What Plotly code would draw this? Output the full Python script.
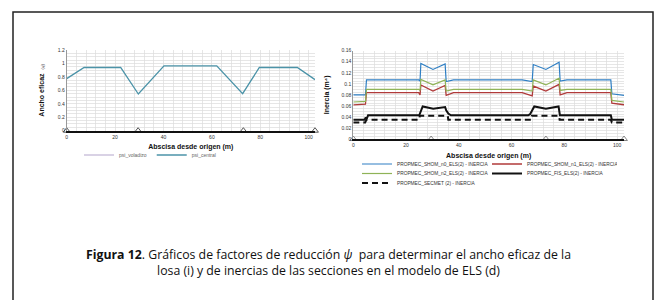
import plotly.graph_objects as go

# ---------------- data ----------------
# left chart: effective width reduction factor psi
x_psi = [0, 7.2, 22.3, 29.6, 40.2, 62.0, 72.7, 79.6, 95.3, 102.6]
psi_central = [0.775, 0.94, 0.94, 0.545, 0.965, 0.965, 0.55, 0.94, 0.94, 0.76]
psi_voladizo = [None]
supports = [0, 29.5, 73, 102.6]

# right chart: inertias
x_shom = [0, 4.6, 5.0, 24.8, 25.3, 25.6, 30.2, 34.8, 35.2, 38.0, 64.0, 67.8, 68.2, 73.0, 78.0, 78.4, 81.0, 97.6, 98.0, 102.6]
n0 = [0.080, 0.080, 0.107, 0.107, 0.105, 0.137, 0.126, 0.136, 0.104, 0.107, 0.107, 0.104, 0.135, 0.126, 0.139, 0.105, 0.107, 0.107, 0.082, 0.079]
n1 = [0.062, 0.063, 0.084, 0.084, 0.080, 0.098, 0.087, 0.097, 0.079, 0.084, 0.084, 0.078, 0.096, 0.087, 0.099, 0.080, 0.084, 0.084, 0.065, 0.062]
n2 = [0.067, 0.068, 0.090, 0.090, 0.088, 0.108, 0.098, 0.107, 0.087, 0.090, 0.090, 0.087, 0.107, 0.098, 0.110, 0.088, 0.090, 0.090, 0.070, 0.067]

x_fis = [0, 4.3, 4.6, 5.2, 5.6, 25.0, 26.3, 30.3, 34.8, 35.2, 36.0, 37.0, 66.3, 67.0, 68.6, 73.0, 77.8, 78.3, 97.6, 98.0, 102.6]
fis = [0.035, 0.035, 0.038, 0.038, 0.043, 0.043, 0.059, 0.055, 0.058, 0.052, 0.046, 0.043, 0.043, 0.045, 0.059, 0.055, 0.059, 0.043, 0.043, 0.035, 0.035]

x_secmet = [0, 4.5, 5.0, 25.0, 25.2, 35.8, 36.0, 67.5, 67.7, 78.0, 78.2, 97.6, 98.0, 102.6]
secmet = [0.030, 0.030, 0.035, 0.035, 0.042, 0.042, 0.035, 0.035, 0.042, 0.042, 0.035, 0.035, 0.030, 0.030]

names_right = [
    "PROPMEC_SHOM_n0_ELS(2) - INERCIA",
    "PROPMEC_SHOM_n1_ELS(2) - INERCIA",
    "PROPMEC_SHOM_n2_ELS(2) - INERCIA",
    "PROPMEC_FIS_ELS(2) - INERCIA",
    "PROPMEC_SECMET (2) - INERCIA",
]

caption = ("<b>Figura 12</b>. Gráficos de factores de reducción <i>ψ</i>  para determinar el ancho eficaz de la"
           "<br>losa (i) y de inercias de las secciones en el modelo de ELS (d)")

W, H = 656, 300
def px(v): return v / W
def py(v): return 1 - v / H

FONT = "Liberation Sans, Arial, sans-serif"

fig = go.Figure()

# left traces
fig.add_trace(go.Scatter(x=[None], y=psi_voladizo, mode="lines", name="psi_voladizo",
                         line=dict(color="#cdc3dc", width=1.5), xaxis="x", yaxis="y", legend="legend"))
fig.add_trace(go.Scatter(x=x_psi, y=psi_central, mode="lines", name="psi_central",
                         line=dict(color="#4b93a8", width=1.3), xaxis="x", yaxis="y", legend="legend"))
fig.add_trace(go.Scatter(x=supports, y=[0] * len(supports), mode="markers", showlegend=False,
                         marker=dict(symbol="triangle-up-open", size=6, color="#555555", line=dict(width=1)),
                         cliponaxis=False, xaxis="x", yaxis="y"))

# right traces
fig.add_trace(go.Scatter(x=x_shom, y=n0, mode="lines", name=names_right[0],
                         line=dict(color="#2f7fc4", width=1.2), xaxis="x2", yaxis="y2", legend="legend2"))
fig.add_trace(go.Scatter(x=x_shom, y=n1, mode="lines", name=names_right[1],
                         line=dict(color="#b03a3a", width=1.3), xaxis="x2", yaxis="y2", legend="legend2"))
fig.add_trace(go.Scatter(x=x_shom, y=n2, mode="lines", name=names_right[2],
                         line=dict(color="#8fb357", width=1.2), xaxis="x2", yaxis="y2", legend="legend3"))
fig.add_trace(go.Scatter(x=x_fis, y=fis, mode="lines", name=names_right[3],
                         line=dict(color="#111111", width=2), xaxis="x2", yaxis="y2", legend="legend3"))
fig.add_trace(go.Scatter(x=x_secmet, y=secmet, mode="lines", name=names_right[4],
                         line=dict(color="#111111", width=2, dash="6px,4px"), xaxis="x2", yaxis="y2", legend="legend4"))
fig.add_trace(go.Scatter(x=supports, y=[0] * len(supports), mode="markers", showlegend=False,
                         marker=dict(symbol="triangle-up-open", size=6, color="#888888", line=dict(width=1)),
                         cliponaxis=False, xaxis="x2", yaxis="y2"))

tickfont = dict(family=FONT, size=5, color="#333333")
titlefont = dict(family=FONT, size=7, color="#111111")
grid = "#dcdcdc"

common_x = dict(range=[0, 102.6], dtick=20, tick0=0, showgrid=True, gridcolor=grid, gridwidth=0.7,
                minor=dict(dtick=4, showgrid=True, gridcolor=grid, gridwidth=0.7),
                showline=True, linecolor="#111111", linewidth=2, zeroline=False,
                tickfont=tickfont, ticks="", automargin=False, fixedrange=True)

legfont = dict(family=FONT, size=4.8, color="#333333")

fig.update_layout(
    width=W, height=H, margin=dict(l=0, r=0, t=0, b=0),
    paper_bgcolor="white", plot_bgcolor="white",
    font=dict(family=FONT), hovermode=False,
    xaxis=dict(domain=[px(66.7), px(315)], anchor="y",
               title=dict(text="<b>Abscisa desde origen (m)</b>", font=titlefont, standoff=5), **common_x),
    yaxis=dict(domain=[py(130.7), py(50)], anchor="x", range=[0, 1.2], dtick=0.2,
               showgrid=True, gridcolor=grid, gridwidth=0.7,
               minor=dict(dtick=0.05, showgrid=True, gridcolor=grid, gridwidth=0.7),
               showline=True, linecolor="#999999", linewidth=1, zeroline=False,
               tickfont=tickfont, automargin=False, fixedrange=True,
               title=dict(text="<b>Ancho eficaz</b>  <span style='font-size:4px'>(ψ)</span>", font=titlefont, standoff=12)),
    xaxis2=dict(domain=[px(353.3), px(624)], anchor="y2",
                title=dict(text="<b>Abscisa desde origen (m)</b>", font=titlefont, standoff=6), **common_x),
    yaxis2=dict(domain=[py(139), py(50.7)], anchor="x2", range=[0, 0.16], dtick=0.02,
                showgrid=True, gridcolor=grid, gridwidth=0.7,
                minor=dict(dtick=0.005, showgrid=True, gridcolor=grid, gridwidth=0.7),
                showline=True, linecolor="#999999", linewidth=1, zeroline=False,
                tickfont=tickfont, automargin=False, fixedrange=True,
                title=dict(text="<b>Inercia (m⁴)</b>", font=titlefont, standoff=11)),
    legend=dict(x=px(150), y=py(155), xanchor="center", yanchor="middle", orientation="h",
                font=dict(family=FONT, size=5, color="#666666"), bgcolor="rgba(0,0,0,0)",
                itemwidth=30, traceorder="normal"),
    legend2=dict(x=px(357), y=py(164), xanchor="left", yanchor="middle", orientation="h",
                 font=legfont, bgcolor="rgba(0,0,0,0)",
                 itemwidth=30, entrywidth=85, traceorder="normal"),
    legend3=dict(x=px(357), y=py(173.5), xanchor="left", yanchor="middle", orientation="h",
                 font=legfont, bgcolor="rgba(0,0,0,0)",
                 itemwidth=30, entrywidth=85, traceorder="normal"),
    legend4=dict(x=px(357), y=py(183), xanchor="left", yanchor="middle", orientation="h",
                 font=legfont, bgcolor="rgba(0,0,0,0)",
                 itemwidth=30, traceorder="normal"),
    shapes=[dict(type="rect", xref="paper", yref="paper", x0=px(13), x1=px(653), y0=-0.05, y1=py(12),
                 line=dict(color="#222222", width=1.5), fillcolor="rgba(0,0,0,0)", layer="below")],
    annotations=[dict(text=caption, xref="paper", yref="paper", x=px(329), y=py(262), xanchor="center",
                      yanchor="middle", showarrow=False, align="center",
                      font=dict(family="Open Sans, Noto Sans, sans-serif", size=12.3, color="#111111"))],
)

fig.write_html("out.html", config={"displayModeBar": False, "staticPlot": True},
               post_script="document.body.style.margin='0';document.body.style.overflow='hidden';")
